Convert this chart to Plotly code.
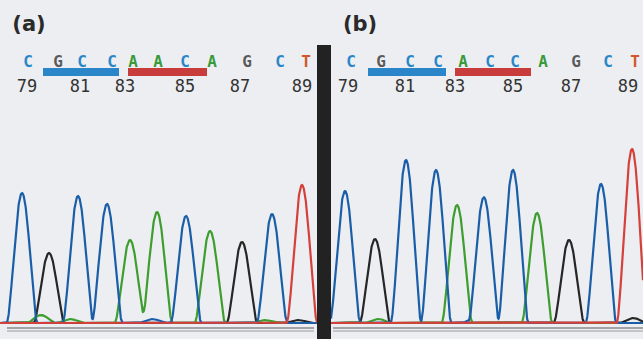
import numpy as np
import plotly.graph_objects as go

# ---------------- data ----------------
# base calls shown above each trace
bases = ["C", "G", "C", "C", "A", "A", "C", "A", "G", "C", "T"]
bases_b = ["C", "G", "C", "C", "A", "C", "C", "A", "G", "C", "T"]
base_pos_a = [28, 58, 82, 112, 133, 158, 185, 212, 247, 280, 306]
base_pos_b = [20, 50, 79, 107, 132, 159, 184, 212, 245, 277, 304]

pos_labels = ["79", "81", "83", "85", "87", "89"]
pos_label_x_a = [27, 80, 125, 185, 240, 302]
pos_label_x_b = [17, 74, 124, 182, 240, 297]

# motif underline spans (start, end) per panel
motif_a = [(43, 119), (128, 207)]
motif_b = [(37, 115), (124, 200)]
motif_colors = ["#2a86c8", "#c83c3c"]

# main peaks: scan position, channel, height
peak_scan_a = [22, 49, 78, 107, 130, 157, 186, 210, 242, 272, 302]
peak_chan_a = ["C", "G", "C", "C", "A", "A", "C", "A", "G", "C", "T"]
peak_h_a = [130, 70, 127, 119, 83, 111, 107, 92, 81, 109, 138]

peak_scan_b = [14, 44, 75, 105, 126, 153, 182, 206, 238, 270, 301]
peak_chan_b = ["C", "G", "C", "C", "A", "C", "C", "A", "G", "C", "T"]
peak_h_b = [132, 84, 163, 153, 118, 125, 153, 110, 79, 139, 174]

# small background peaks
minor_scan_a = [41, 70, 152, 265, 298]
minor_chan_a = ["A", "A", "C", "A", "G"]
minor_h_a = [8, 4, 4, 3, 3]
minor_scan_b = [47, 143, 238, 302]
minor_chan_b = ["A", "C", "G", "G"]
minor_h_b = [4, 3, 4, 5]

chan_colors = {"C": "#1b5ea8", "G": "#262626", "A": "#3d9e2e", "T": "#d6403a"}
letter_colors = {"C": "#2b86c8", "G": "#5a5a5a", "A": "#3a9a3a", "T": "#d2562c"}
chan_order = ["G", "A", "C", "T"]

# ---------------- figure ----------------
fig = go.Figure()
HALF_W = 15.5


def kernel(d, w):
    u = np.clip(1 - (d / w) ** 2, 0, None)
    return u ** 2


def add_panel(xa, ya, xmax, scans, chans, hs, mscans, mchans, mhs,
              bpos, blist, lblx, motifs, tag):
    xs = np.linspace(0, xmax, 1400)
    for ch in chan_order:
        y = np.full_like(xs, 2.0)
        for s, c, h in zip(scans, chans, hs):
            if c == ch:
                y += h * kernel(xs - s, HALF_W)
        for s, c, h in zip(mscans, mchans, mhs):
            if c == ch:
                y += h * kernel(xs - s, HALF_W * 0.9)
        fig.add_trace(go.Scatter(x=xs, y=y, mode="lines", xaxis=xa, yaxis=ya,
                                 line=dict(color=chan_colors[ch], width=2.2),
                                 hoverinfo="skip", showlegend=False))
    # motif bars
    for (s, e), col in zip(motifs, motif_colors):
        fig.add_trace(go.Scatter(x=[s, e], y=[253, 253], mode="lines", xaxis=xa, yaxis=ya,
                                 line=dict(color=col, width=8),
                                 hoverinfo="skip", showlegend=False))
    # base letters
    fig.add_trace(go.Scatter(x=bpos, y=[262] * len(bpos), mode="text", text=blist,
                             xaxis=xa, yaxis=ya,
                             textfont=dict(family="DejaVu Sans Mono", size=16,
                                           color=[letter_colors[b] for b in blist],
                                           weight="bold"),
                             hoverinfo="skip", showlegend=False))
    # position numbers
    fig.add_trace(go.Scatter(x=lblx, y=[237] * len(lblx), mode="text", text=pos_labels,
                             xaxis=xa, yaxis=ya,
                             textfont=dict(family="DejaVu Sans Mono", size=17, color="#333333"),
                             hoverinfo="skip", showlegend=False))
    # panel tag
    fig.add_trace(go.Scatter(x=[29], y=[299], mode="text", text=[tag],
                             xaxis=xa, yaxis=ya,
                             textfont=dict(family="DejaVu Sans", size=21, color="#2a2a2a",
                                           weight="bold"),
                             hoverinfo="skip", showlegend=False))


add_panel("x", "y", 317, peak_scan_a, peak_chan_a, peak_h_a,
          minor_scan_a, minor_chan_a, minor_h_a,
          base_pos_a, bases, pos_label_x_a, motif_a, "(a)")
add_panel("x2", "y2", 312, peak_scan_b, peak_chan_b, peak_h_b,
          minor_scan_b, minor_chan_b, minor_h_b,
          base_pos_b, bases_b, pos_label_x_b, motif_b, "(b)")

W, H = 643, 339
shapes = [
    # divider
    dict(type="rect", xref="paper", yref="paper", x0=317 / W, x1=331 / W,
         y0=0, y1=1 - 45 / H, fillcolor="#222222", line=dict(width=0), layer="above"),
    # bottom axis double lines
    dict(type="line", xref="x", yref="y", x0=7, x1=314, y0=-3, y1=-3,
         line=dict(color="#8a8a8a", width=1.3)),
    dict(type="line", xref="x", yref="y", x0=7, x1=314, y0=-6, y1=-6,
         line=dict(color="#9a9a9a", width=1)),
    dict(type="line", xref="x2", yref="y2", x0=2, x1=312, y0=-3, y1=-3,
         line=dict(color="#8a8a8a", width=1.3)),
    dict(type="line", xref="x2", yref="y2", x0=2, x1=312, y0=-6, y1=-6,
         line=dict(color="#9a9a9a", width=1)),
]

ax = dict(showgrid=False, zeroline=False, showticklabels=False, showline=False, ticks="")
fig.update_layout(
    width=W, height=H,
    margin=dict(l=0, r=0, t=0, b=0),
    paper_bgcolor="#eceef2",
    plot_bgcolor="rgba(0,0,0,0)",
    xaxis=dict(domain=[0, 317 / W], range=[0, 317], **ax),
    xaxis2=dict(domain=[331 / W, 1], range=[0, 312], **ax),
    yaxis=dict(domain=[0, 1], range=[-14, 325], **ax),
    yaxis2=dict(domain=[0, 1], range=[-14, 325], anchor="x2", **ax),
    shapes=shapes,
    hovermode=False,
)

fig.write_html(
    "out.html",
    config={"displayModeBar": False, "staticPlot": True},
    post_script="document.body.style.margin='0';document.body.style.overflow='hidden';",
)
